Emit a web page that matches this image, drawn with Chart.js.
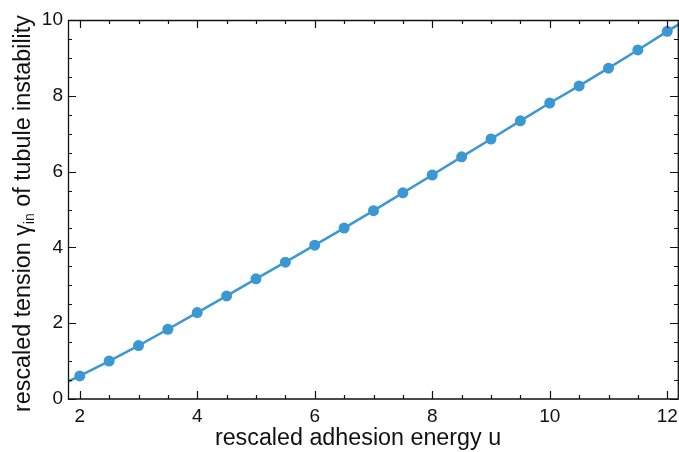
<!DOCTYPE html>
<html>
<head>
<meta charset="utf-8">
<script src="https://cdn.jsdelivr.net/npm/chart.js@4.4.1/dist/chart.umd.min.js"></script>
<style>
  html, body { margin: 0; padding: 0; background: #fff; }
  #wrap { width: 679px; height: 452px; }
</style>
</head>
<body>
<div id="wrap"><canvas id="c" width="679" height="452"></canvas></div>
<script>
// ---- data ----
const uValues = [2, 2.5, 3, 3.5, 4, 4.5, 5, 5.5, 6, 6.5, 7, 7.5, 8, 8.5, 9, 9.5, 10, 10.5, 11, 11.5, 12];
const gammaValues = [0.61, 1.00, 1.41, 1.84, 2.28, 2.72, 3.17, 3.61, 4.06, 4.51, 4.97, 5.44, 5.91, 6.39, 6.86, 7.34, 7.81, 8.26, 8.73, 9.21, 9.70];
// fitted curve: ends extend to the frame edges
const curveU = [1.8, 2, 2.5, 3, 3.5, 4, 4.5, 5, 5.5, 6, 6.5, 7, 7.5, 8, 8.5, 9, 9.5, 10, 10.5, 11, 11.5, 12, 12.2];
const curveGamma = [0.46, 0.61, 1.00, 1.41, 1.84, 2.28, 2.72, 3.17, 3.61, 4.06, 4.51, 4.97, 5.44, 5.91, 6.39, 6.86, 7.34, 7.81, 8.26, 8.73, 9.21, 9.70, 9.89];
const xMajorTicks = [2, 4, 6, 8, 10, 12];
const yMajorTicks = [0, 2, 4, 6, 8, 10];
const xTitle = 'rescaled adhesion energy u';
const yTitleParts = ['rescaled tension γ', 'in', ' of tubule instability'];

const COLOR = '#3b98d2';
const FONT = '"Liberation Sans", Arial, sans-serif';

const frameTicks = {
  id: 'frameTicks',
  afterDraw(chart) {
    const ctx = chart.ctx;
    const a = chart.chartArea;
    const xs = chart.scales.x, ys = chart.scales.y;
    ctx.save();
    ctx.strokeStyle = '#111';
    ctx.lineWidth = 1.3;
    ctx.beginPath();
    ctx.rect(a.left + 0.5, a.top + 0.5, a.right - a.left - 1.2, a.bottom - a.top - 0.5);
    ctx.stroke();
    ctx.lineWidth = 1.2;
    ctx.beginPath();
    for (let v = 2; v <= 12.001; v += 0.5) {
      const major = Math.abs(v - Math.round(v / 2) * 2) < 1e-6;
      const len = major ? 8 : 4;
      const px = Math.round(xs.getPixelForValue(v)) + 0.5;
      ctx.moveTo(px, a.bottom); ctx.lineTo(px, a.bottom - len);
      ctx.moveTo(px, a.top); ctx.lineTo(px, a.top + len);
    }
    for (let v = 0; v <= 10.001; v += 0.5) {
      const major = Math.abs(v - Math.round(v / 2) * 2) < 1e-6;
      const len = major ? 8 : 4;
      const py = Math.round(ys.getPixelForValue(v)) + 0.5;
      ctx.moveTo(a.left, py); ctx.lineTo(a.left + len, py);
      ctx.moveTo(a.right - 1, py); ctx.lineTo(a.right - 1 - len, py);
    }
    ctx.stroke();

    ctx.fillStyle = '#111';
    ctx.textBaseline = 'alphabetic';
    const big = '23.3px ' + FONT, small = '14px ' + FONT;

    // x axis title
    ctx.font = big;
    ctx.textAlign = 'center';
    ctx.fillText(xTitle, 358, 445);
    ctx.textAlign = 'left';

    // y axis title with subscript
    ctx.translate(30, 213.5);
    ctx.rotate(-Math.PI / 2);
    ctx.font = big; const w0 = ctx.measureText(yTitleParts[0]).width;
    ctx.font = small; const w1 = ctx.measureText(yTitleParts[1]).width;
    ctx.font = big; const w2 = ctx.measureText(yTitleParts[2]).width;
    let x0 = -(w0 + w1 + w2) / 2;
    ctx.font = big; ctx.fillText(yTitleParts[0], x0, 0);
    ctx.font = small; ctx.fillText(yTitleParts[1], x0 + w0, 4);
    ctx.font = big; ctx.fillText(yTitleParts[2], x0 + w0 + w1, 0);
    ctx.restore();
  }
};

new Chart(document.getElementById('c'), {
  type: 'scatter',
  data: {
    datasets: [
      {
        label: 'fit',
        data: curveU.map((u, i) => ({ x: u, y: curveGamma[i] })),
        showLine: true,
        borderColor: COLOR,
        borderWidth: 2.5,
        pointRadius: 0,
        tension: 0,
        fill: false
      },
      {
        label: 'points',
        data: uValues.map((u, i) => ({ x: u, y: gammaValues[i] })),
        showLine: false,
        backgroundColor: COLOR,
        borderColor: COLOR,
        pointRadius: 5.5,
        pointBorderWidth: 0
      }
    ]
  },
  options: {
    responsive: false,
    animation: false,
    layout: { autoPadding: false, padding: { top: 20, right: 0, left: 0, bottom: 0 } },
    plugins: { legend: { display: false }, tooltip: { enabled: false } },
    scales: {
      x: {
        type: 'linear',
        min: 1.8, max: 12.2,
        afterBuildTicks: s => { s.ticks = xMajorTicks.map(v => ({ value: v })); },
        afterFit: s => { s.height = 53; s.paddingLeft = 0; s.paddingRight = 0; },
        grid: { display: false, drawTicks: false },
        border: { display: false },
        ticks: { color: '#111', font: { family: FONT, size: 19 }, padding: 6, maxRotation: 0 },
        title: { display: false, text: xTitle }
      },
      y: {
        type: 'linear',
        min: 0, max: 10,
        afterBuildTicks: s => { s.ticks = yMajorTicks.map(v => ({ value: v })); },
        afterFit: s => { s.width = 68; s.paddingTop = 0; s.paddingBottom = 0; },
        grid: { display: false, drawTicks: false },
        border: { display: false },
        ticks: { color: '#111', font: { family: FONT, size: 19 }, padding: 5 },
        title: { display: false }
      }
    }
  },
  plugins: [frameTicks]
});
</script>
</body>
</html>
